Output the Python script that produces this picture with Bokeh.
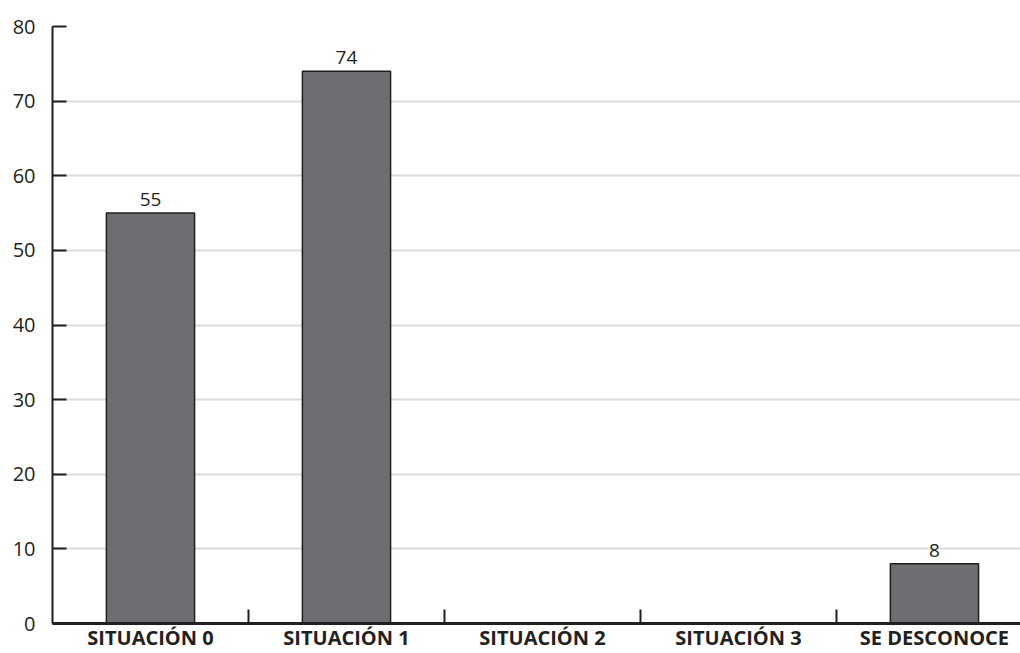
from bokeh.plotting import figure
from bokeh.models import ColumnDataSource, FixedTicker, Range1d
from bokeh.core.properties import value
from bokeh.embed import file_html
from bokeh.resources import INLINE

categories = ["SITUACIÓN 0", "SITUACIÓN 1", "SITUACIÓN 2", "SITUACIÓN 3", "SE DESCONOCE"]
counts = [55, 74, 0, 0, 8]
y_ticks = [0, 10, 20, 30, 40, 50, 60, 70, 80]

xs = list(range(len(categories)))
nz = [i for i, v in enumerate(counts) if v > 0]
src = ColumnDataSource(dict(
    x=[xs[i] for i in nz],
    top=[counts[i] for i in nz],
    lbl=[str(counts[i]) for i in nz],
))

p = figure(width=1020, height=653, output_backend="svg", toolbar_location=None,
           x_range=Range1d(-0.5, 4.439), y_range=Range1d(0, 80),
           min_border_left=52, min_border_top=26, min_border_right=0, min_border_bottom=27)
p.outline_line_color = None
p.background_fill_color = "white"
p.border_fill_color = "white"

p.vbar(x="x", top="top", width=0.45, source=src, fill_color="#6d6e71",
       line_color="#231f20", line_width=1.5)
p.text(x="x", y="top", text="lbl", source=src, text_align="center", text_baseline="bottom",
       y_offset=-7, text_font=value("Open Sans"), text_font_size="19px", text_color="#231f20")

# y axis
p.yaxis.ticker = FixedTicker(ticks=y_ticks)
p.yaxis.axis_line_color = "#231f20"
p.yaxis.axis_line_width = 2
p.yaxis.major_tick_in = 14
p.yaxis.major_tick_out = 0
p.yaxis.major_tick_line_width = 2
p.yaxis.major_tick_line_color = "#231f20"
p.yaxis.minor_tick_line_color = None
p.yaxis.major_label_standoff = 17
p.yaxis.major_label_text_font = "Open Sans"
p.yaxis.major_label_text_font_size = "20px"
p.yaxis.major_label_text_color = "#231f20"

# x axis: boundary ticks (minor) and category names (major labels)
p.xaxis.ticker = FixedTicker(ticks=xs, minor_ticks=[0.5, 1.5, 2.5, 3.5])
p.xaxis.major_label_overrides = {i: c for i, c in enumerate(categories)}
p.xaxis.major_tick_line_color = None
p.xaxis.major_tick_out = 0
p.xaxis.major_tick_in = 0
p.xaxis.minor_tick_in = 14
p.xaxis.minor_tick_out = 0
p.xaxis.minor_tick_line_width = 2
p.xaxis.minor_tick_line_color = "#231f20"
p.xaxis.axis_line_color = "#231f20"
p.xaxis.axis_line_width = 3
p.xaxis.major_label_standoff = 0
p.xaxis.major_label_text_font = "Open Sans"
p.xaxis.major_label_text_font_style = "bold"
p.xaxis.major_label_text_font_size = "20px"
p.xaxis.major_label_text_color = "#231f20"

p.xgrid.grid_line_color = None
p.ygrid.ticker = FixedTicker(ticks=y_ticks)
p.ygrid.grid_line_color = "#dcdcdc"
p.ygrid.grid_line_width = 2

open("out.html", "w").write(file_html(p, INLINE))
